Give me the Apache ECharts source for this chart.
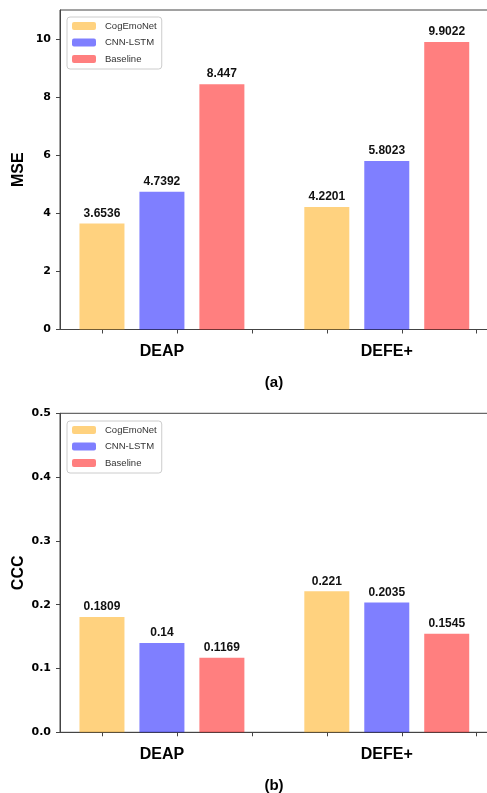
<!DOCTYPE html>
<html><head><meta charset="utf-8">
<script src="https://cdn.jsdelivr.net/npm/echarts@6/dist/echarts.min.js"></script>
<style>html,body{margin:0;padding:0;background:#fff}#c{width:487px;height:793px}</style>
</head><body><div id="c"></div>
<script>
const categories = ['DEAP', 'DEFE+'];
const seriesNames = ['CogEmoNet', 'CNN-LSTM', 'Baseline'];
const mseCogEmoNet = [3.6536, 4.2201];
const mseCNNLSTM = [4.7392, 5.8023];
const mseBaseline = [8.447, 9.9022];
const cccCogEmoNet = [0.1809, 0.221];
const cccCNNLSTM = [0.14, 0.2035];
const cccBaseline = [0.1169, 0.1545];
const mseTicks = [0, 2, 4, 6, 8, 10];
const cccTicks = [0, 0.1, 0.2, 0.3, 0.4, 0.5];

const colors = ['rgba(255,165,0,0.5)', 'rgba(0,0,255,0.5)', 'rgba(255,0,0,0.5)'];
const groupStep = 3, barStep = 0.8;
const xPos = (g, s) => g * groupStep + s * barStep;
const catCenters = categories.map((c, g) => xPos(g, 1));
const xTicks = [0, 1, 2, 3, 4, 5];

const tickFont = {fontFamily: 'DejaVu Sans', fontWeight: 'bold', fontSize: 11, color: '#000'};
const axisLineStyle = {color: '#444', width: 1};

function makeX(gridIndex) {
  return {
    type: 'value', gridIndex, min: -0.56, max: 5.16,
    splitLine: {show: false},
    axisLine: {show: true, onZero: false, lineStyle: axisLineStyle},
    axisTick: {show: true, length: 4, customValues: xTicks, lineStyle: axisLineStyle},
    axisLabel: {
      customValues: catCenters,
      formatter: v => { const i = catCenters.findIndex(c => Math.abs(c - v) < 1e-6); return i >= 0 ? categories[i] : ''; },
      fontFamily: 'Liberation Sans', fontWeight: 'bold', fontSize: 16, color: '#000', margin: 14
    }
  };
}
function makeY(gridIndex, max, ticks, name, fmt, gap) {
  return {
    type: 'value', gridIndex, min: 0, max,
    name, nameLocation: 'middle', nameGap: gap, nameMoveOverlap: false,
    nameTextStyle: {fontFamily: 'Liberation Sans', fontWeight: 'bold', fontSize: 16, color: '#000'},
    splitLine: {show: false},
    axisLine: {show: true, onZero: false, lineStyle: axisLineStyle},
    axisTick: {show: true, length: 4, customValues: ticks, lineStyle: axisLineStyle},
    axisLabel: Object.assign({customValues: ticks, margin: 9, formatter: fmt}, tickFont)
  };
}
function makeSeries(name, idx, values, axisIdx) {
  return {
    type: 'bar', name, xAxisIndex: axisIdx, yAxisIndex: axisIdx,
    barWidth: 45, barGap: '-100%',
    itemStyle: {color: colors[idx]},
    label: {show: true, position: 'top', distance: 4, fontFamily: 'Liberation Sans', fontWeight: 'bold', fontSize: 12, color: '#111',
      formatter: p => String(p.value[1])},
    data: values.map((v, g) => [xPos(g, idx), v])
  };
}
function makeLegend(top) {
  return {
    orient: 'vertical', left: 67, top, data: seriesNames,
    itemWidth: 24, itemHeight: 8, itemGap: 6.5,
    padding: [4, 5, 5, 5], borderColor: '#ccc', borderWidth: 1, borderRadius: 3,
    backgroundColor: 'rgba(255,255,255,0.8)',
    textStyle: {fontFamily: 'Liberation Sans', fontSize: 9.5, color: '#333', padding: [0, 0, 0, 4]},
    selectedMode: false
  };
}

const chart = echarts.init(document.getElementById('c'), null, {renderer: 'canvas'});
chart.setOption({
  animation: false,
  grid: [
    {left: 60, top: 10, width: 428.7, height: 319.5, show: true, borderColor: '#444', borderWidth: 1, backgroundColor: 'transparent', containLabel: false, outerBoundsMode: 'none'},
    {left: 60, top: 413.3, width: 428.7, height: 319, show: true, borderColor: '#444', borderWidth: 1, backgroundColor: 'transparent', containLabel: false, outerBoundsMode: 'none'}
  ],
  xAxis: [makeX(0), makeX(1)],
  yAxis: [
    makeY(0, 11, mseTicks, 'MSE', v => String(v), 33),
    makeY(1, 0.5, cccTicks, 'CCC', v => v.toFixed(1), 33)
  ],
  legend: [makeLegend(17), makeLegend(421)],
  title: [
    {text: '(a)', left: 269, top: 370, textAlign: 'center', textStyle: {fontFamily: 'Liberation Sans', fontWeight: 'bold', fontSize: 15, color: '#000'}},
    {text: '(b)', left: 269, top: 773, textAlign: 'center', textStyle: {fontFamily: 'Liberation Sans', fontWeight: 'bold', fontSize: 15, color: '#000'}}
  ],
  series: [
    makeSeries(seriesNames[0], 0, mseCogEmoNet, 0),
    makeSeries(seriesNames[1], 1, mseCNNLSTM, 0),
    makeSeries(seriesNames[2], 2, mseBaseline, 0),
    makeSeries(seriesNames[0], 0, cccCogEmoNet, 1),
    makeSeries(seriesNames[1], 1, cccCNNLSTM, 1),
    makeSeries(seriesNames[2], 2, cccBaseline, 1)
  ]
});
</script></body></html>
